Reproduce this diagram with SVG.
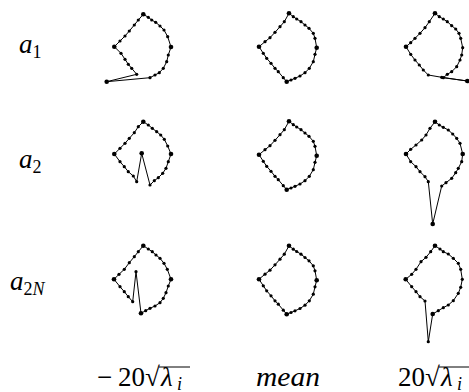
<svg xmlns="http://www.w3.org/2000/svg" width="469" height="392" viewBox="0 0 469 392">
<style>
.s{fill:none;stroke:#000;stroke-width:1;stroke-linejoin:round}
.d{fill:#000}
.v{stroke:#000;stroke-width:1}
</style>
<defs>
<circle id="p" r="1.6" class="d"/>
<circle id="q" r="2.3" class="d"/>
<g id="meanshape">
<polygon class="s" points="289,13.3 293.3,16.7 296.7,19 301,21.7 305,25 309,28.3 313.3,33.3 315,38.3 316.7,47.7 315,54.3 313.3,61.7 309.3,68.3 305,72.7 300,76 295,78.3 291,80 286.7,81.7 283.3,77.7 278.3,71.7 275,68.3 271,63.3 266.7,58.3 263.3,53.3 259,46.7 265,41.7 270,37.7 275,32.3 280,26.7 284.3,21.7"/>
<use href="#q" x="289" y="13.3"/><use href="#p" x="293.3" y="16.7"/><use href="#p" x="296.7" y="19"/><use href="#p" x="301" y="21.7"/><use href="#p" x="305" y="25"/><use href="#p" x="309" y="28.3"/><use href="#p" x="313.3" y="33.3"/><use href="#p" x="315" y="38.3"/><use href="#q" x="316.7" y="47.7"/><use href="#p" x="315" y="54.3"/><use href="#p" x="313.3" y="61.7"/><use href="#p" x="309.3" y="68.3"/><use href="#p" x="305" y="72.7"/><use href="#p" x="300" y="76"/><use href="#p" x="295" y="78.3"/><use href="#p" x="291" y="80"/><use href="#q" x="286.7" y="81.7"/><use href="#p" x="283.3" y="77.7"/><use href="#p" x="278.3" y="71.7"/><use href="#p" x="275" y="68.3"/><use href="#p" x="271" y="63.3"/><use href="#p" x="266.7" y="58.3"/><use href="#p" x="263.3" y="53.3"/><use href="#q" x="259" y="46.7"/><use href="#p" x="265" y="41.7"/><use href="#p" x="270" y="37.7"/><use href="#p" x="275" y="32.3"/><use href="#p" x="280" y="26.7"/><use href="#p" x="284.3" y="21.7"/>
</g>
</defs>

<g id="labels-rows">
<text x="19" y="53" font-size="27" font-family="'Liberation Serif'" font-style="italic">a<tspan font-style="normal" font-size="18" dy="5">1</tspan></text>
<text x="19" y="168" font-size="27" font-family="'Liberation Serif'" font-style="italic">a<tspan font-style="normal" font-size="18" dy="5">2</tspan></text>
<text x="10" y="290" font-size="27" font-family="'Liberation Serif'" font-style="italic">a<tspan font-style="normal" font-size="18" dy="5">2</tspan><tspan font-size="18">N</tspan></text>
</g>

<g id="shape-a1-minus">
<polygon class="s" points="143.3,14.3 148.3,17.3 151.7,20 155.7,22.3 160,26 164,30 167.7,36.7 171,47 168.3,55 166.7,61.7 163.3,68.3 159.3,72.7 155,75 150,77.7 106.7,81.7 136.7,74.3 131.7,68.3 128.3,64.3 125,59.3 121,53.3 114.3,46.7 120,41 125,36 129.3,31 134.3,25 138.3,20"/>
<use href="#q" x="143.3" y="14.3"/><use href="#p" x="148.3" y="17.3"/><use href="#p" x="151.7" y="20"/><use href="#p" x="155.7" y="22.3"/><use href="#p" x="160" y="26"/><use href="#p" x="164" y="30"/><use href="#p" x="167.7" y="36.7"/><use href="#q" x="171" y="47"/><use href="#p" x="168.3" y="55"/><use href="#p" x="166.7" y="61.7"/><use href="#p" x="163.3" y="68.3"/><use href="#p" x="159.3" y="72.7"/><use href="#p" x="155" y="75"/><use href="#p" x="150" y="77.7"/><use href="#q" x="106.7" y="81.7"/><use href="#p" x="136.7" y="74.3"/><use href="#p" x="131.7" y="68.3"/><use href="#p" x="128.3" y="64.3"/><use href="#p" x="125" y="59.3"/><use href="#p" x="121" y="53.3"/><use href="#q" x="114.3" y="46.7"/><use href="#p" x="120" y="41"/><use href="#p" x="125" y="36"/><use href="#p" x="129.3" y="31"/><use href="#p" x="134.3" y="25"/><use href="#p" x="138.3" y="20"/>
</g>

<g id="shape-a1-mean"><use href="#meanshape"/></g>

<g id="shape-a1-plus">
<polygon class="s" points="435,13.3 439.3,16.7 443.3,19 447.3,21.7 451.7,25.7 455.7,29 459,33.3 460.7,38.3 462.7,47.7 461.7,55 460,60 456.7,66.7 451.7,71.7 447.3,74.3 443.3,77.7 467.3,81 441.7,77.3 428.3,75 423.3,70 419.3,65 415,60 410.7,54.3 406,46.7 410.7,42.7 415,38.3 420,33.3 425,27.7 429.3,21.7"/>
<use href="#q" x="435" y="13.3"/><use href="#p" x="439.3" y="16.7"/><use href="#p" x="443.3" y="19"/><use href="#p" x="447.3" y="21.7"/><use href="#p" x="451.7" y="25.7"/><use href="#p" x="455.7" y="29"/><use href="#p" x="459" y="33.3"/><use href="#p" x="460.7" y="38.3"/><use href="#p" x="462.7" y="47.7"/><use href="#p" x="461.7" y="55"/><use href="#p" x="460" y="60"/><use href="#p" x="456.7" y="66.7"/><use href="#p" x="451.7" y="71.7"/><use href="#p" x="447.3" y="74.3"/><use href="#p" x="443.3" y="77.7"/><use href="#q" x="467.3" y="81"/><use href="#p" x="441.7" y="77.3"/><use href="#p" x="428.3" y="75"/><use href="#p" x="423.3" y="70"/><use href="#p" x="419.3" y="65"/><use href="#p" x="415" y="60"/><use href="#p" x="410.7" y="54.3"/><use href="#q" x="406" y="46.7"/><use href="#p" x="410.7" y="42.7"/><use href="#p" x="415" y="38.3"/><use href="#p" x="420" y="33.3"/><use href="#p" x="425" y="27.7"/><use href="#p" x="429.3" y="21.7"/>
</g>

<g id="shape-a2-minus">
<polygon class="s" points="143.3,121.7 148.3,125 152.3,128.3 156.7,131.7 160.7,135 164.3,139.3 167.7,146 171,154 168.3,161.7 166,168.3 162.7,173.3 158.3,177.7 154.3,180.7 150,185 141.7,153.3 136.7,181.7 133.3,176 128.3,171.7 124.3,166.7 120,161.7 114.3,154 120,148.3 125,143.3 129.3,138.3 134.3,132.7 138.3,126.7"/>
<use href="#q" x="143.3" y="121.7"/><use href="#p" x="148.3" y="125"/><use href="#p" x="152.3" y="128.3"/><use href="#p" x="156.7" y="131.7"/><use href="#p" x="160.7" y="135"/><use href="#p" x="164.3" y="139.3"/><use href="#p" x="167.7" y="146"/><use href="#q" x="171" y="154"/><use href="#p" x="168.3" y="161.7"/><use href="#p" x="166" y="168.3"/><use href="#p" x="162.7" y="173.3"/><use href="#p" x="158.3" y="177.7"/><use href="#p" x="154.3" y="180.7"/><use href="#p" x="150" y="185"/><use href="#q" x="141.7" y="153.3"/><use href="#p" x="136.7" y="181.7"/><use href="#p" x="133.3" y="176"/><use href="#p" x="128.3" y="171.7"/><use href="#p" x="124.3" y="166.7"/><use href="#p" x="120" y="161.7"/><use href="#q" x="114.3" y="154"/><use href="#p" x="120" y="148.3"/><use href="#p" x="125" y="143.3"/><use href="#p" x="129.3" y="138.3"/><use href="#p" x="134.3" y="132.7"/><use href="#p" x="138.3" y="126.7"/>
</g>

<g id="shape-a2-mean"><use href="#meanshape" y="108"/></g>

<g id="shape-a2-plus">
<polygon class="s" points="435,121.7 439.3,125 443.3,127.3 448.3,130 452.7,134 456.7,138.3 460,143.3 462.7,154 461.7,161.7 458.3,168.3 455.7,172.7 451.7,178.3 446,182.7 441.7,186 432.7,224 428.3,181.7 425,176.7 420,171.7 416,166.7 410.7,161.7 406,154 410.7,149.3 416,145 421.7,140 426,135 430,128.3"/>
<use href="#q" x="435" y="121.7"/><use href="#p" x="439.3" y="125"/><use href="#p" x="443.3" y="127.3"/><use href="#p" x="448.3" y="130"/><use href="#p" x="452.7" y="134"/><use href="#p" x="456.7" y="138.3"/><use href="#p" x="460" y="143.3"/><use href="#q" x="462.7" y="154"/><use href="#p" x="461.7" y="161.7"/><use href="#p" x="458.3" y="168.3"/><use href="#p" x="455.7" y="172.7"/><use href="#p" x="451.7" y="178.3"/><use href="#p" x="446" y="182.7"/><use href="#p" x="441.7" y="186"/><use href="#q" x="432.7" y="224"/><use href="#p" x="428.3" y="181.7"/><use href="#p" x="425" y="176.7"/><use href="#p" x="420" y="171.7"/><use href="#p" x="416" y="166.7"/><use href="#p" x="410.7" y="161.7"/><use href="#q" x="406" y="154"/><use href="#p" x="410.7" y="149.3"/><use href="#p" x="416" y="145"/><use href="#p" x="421.7" y="140"/><use href="#p" x="426" y="135"/><use href="#p" x="430" y="128.3"/>
</g>

<g id="shape-a2N-minus">
<polygon class="s" points="143.3,245.7 148.3,249 152.3,251.7 156,255 160,258.3 164,263.3 167.3,269.3 171,279.3 168.3,286 166,292.7 163.3,298.3 160,302.7 155,306 150,308.3 145.7,310.7 141,313.3 136,271.7 132.7,301.7 128.3,296.7 124.3,291.7 120,286.7 114,279.3 119,274.3 124.3,269.3 129.3,262.7 134.3,256.7 138.3,251.7"/>
<use href="#q" x="143.3" y="245.7"/><use href="#p" x="148.3" y="249"/><use href="#p" x="152.3" y="251.7"/><use href="#p" x="156" y="255"/><use href="#p" x="160" y="258.3"/><use href="#p" x="164" y="263.3"/><use href="#p" x="167.3" y="269.3"/><use href="#q" x="171" y="279.3"/><use href="#p" x="168.3" y="286"/><use href="#p" x="166" y="292.7"/><use href="#p" x="163.3" y="298.3"/><use href="#p" x="160" y="302.7"/><use href="#p" x="155" y="306"/><use href="#p" x="150" y="308.3"/><use href="#p" x="145.7" y="310.7"/><use href="#q" x="141" y="313.3"/><use href="#p" x="136" y="271.7"/><use href="#p" x="132.7" y="301.7"/><use href="#p" x="128.3" y="296.7"/><use href="#p" x="124.3" y="291.7"/><use href="#p" x="120" y="286.7"/><use href="#q" x="114" y="279.3"/><use href="#p" x="119" y="274.3"/><use href="#p" x="124.3" y="269.3"/><use href="#p" x="129.3" y="262.7"/><use href="#p" x="134.3" y="256.7"/><use href="#p" x="138.3" y="251.7"/>
</g>

<g id="shape-a2N-mean"><use href="#meanshape" y="232.5"/></g>

<g id="shape-a2N-plus">
<polygon class="s" points="435,245.7 440,249 443.3,251.7 448.3,254 453.3,258.3 458.3,263.3 460.7,269.3 462.3,279.3 460.7,287.3 458.3,293.3 453.3,300.7 448.3,305 443.3,307.7 438.3,310.7 432.7,314 428.3,341.7 425,301 420,296.7 416,291.7 411.7,286.7 405.7,279.3 411.7,274.3 416,269.3 421,261.7 426,257.3 430.7,251.7"/>
<use href="#q" x="435" y="245.7"/><use href="#p" x="440" y="249"/><use href="#p" x="443.3" y="251.7"/><use href="#p" x="448.3" y="254"/><use href="#p" x="453.3" y="258.3"/><use href="#p" x="458.3" y="263.3"/><use href="#p" x="460.7" y="269.3"/><use href="#p" x="462.3" y="279.3"/><use href="#p" x="460.7" y="287.3"/><use href="#p" x="458.3" y="293.3"/><use href="#p" x="453.3" y="300.7"/><use href="#p" x="448.3" y="305"/><use href="#p" x="443.3" y="307.7"/><use href="#p" x="438.3" y="310.7"/><use href="#q" x="432.7" y="314"/><use href="#p" x="428.3" y="341.7"/><use href="#p" x="425" y="301"/><use href="#p" x="420" y="296.7"/><use href="#p" x="416" y="291.7"/><use href="#p" x="411.7" y="286.7"/><use href="#q" x="405.7" y="279.3"/><use href="#p" x="411.7" y="274.3"/><use href="#p" x="416" y="269.3"/><use href="#p" x="421" y="261.7"/><use href="#p" x="426" y="257.3"/><use href="#p" x="430.7" y="251.7"/>
</g>

<g id="labels-cols">
<text x="97" y="386" font-size="27" font-family="'Liberation Serif'">−</text>
<text x="118" y="386" font-size="27" font-family="'Liberation Serif'">20</text>
<text x="145" y="386" font-size="27" font-family="'Liberation Serif'">√</text>
<line class="v" x1="159" y1="367" x2="190" y2="367"/>
<text x="161" y="386" font-size="27" font-family="'Liberation Serif'" font-style="italic">λ</text>
<text x="177" y="390" font-size="18" font-family="'Liberation Serif'" font-style="italic">i</text>
<text x="256" y="386" font-size="27" font-family="'Liberation Serif'" font-style="italic" textLength="64" lengthAdjust="spacingAndGlyphs">mean</text>
<text x="398" y="386" font-size="27" font-family="'Liberation Serif'">20</text>
<text x="425" y="386" font-size="27" font-family="'Liberation Serif'">√</text>
<line class="v" x1="439" y1="367" x2="469" y2="367"/>
<text x="441" y="386" font-size="27" font-family="'Liberation Serif'" font-style="italic">λ</text>
<text x="457" y="390" font-size="18" font-family="'Liberation Serif'" font-style="italic">i</text>
</g>
</svg>
